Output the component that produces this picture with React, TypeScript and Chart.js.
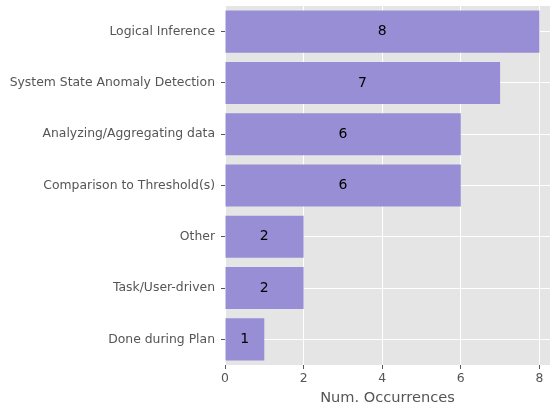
import React, { useEffect, useRef } from "react";
import { Chart, registerables } from "chart.js";

Chart.register(...registerables);

const categories = [
  "Logical Inference",
  "System State Anomaly Detection",
  "Analyzing/Aggregating data",
  "Comparison to Threshold(s)",
  "Other",
  "Task/User-driven",
  "Done during Plan",
];
const occurrences = [8, 7, 6, 6, 2, 2, 1];
const xTicks = [0, 2, 4, 6, 8];
const xTitle = "Num. Occurrences";

const FONT = "'DejaVu Sans', sans-serif";

const bgPlugin = {
  id: "ggbg",
  beforeDraw(chart: any) {
    const { ctx, chartArea } = chart;
    ctx.save();
    ctx.fillStyle = "#E5E5E5";
    ctx.fillRect(chartArea.left, chartArea.top, chartArea.right - chartArea.left, chartArea.bottom - chartArea.top);
    ctx.restore();
  },
};

const labelPlugin = {
  id: "barlabels",
  afterDatasetsDraw(chart: any) {
    const { ctx } = chart;
    const meta = chart.getDatasetMeta(0);
    const xs = chart.scales.x;
    ctx.save();
    ctx.fillStyle = "#000";
    ctx.font = `14px ${FONT}`;
    ctx.textAlign = "center";
    ctx.textBaseline = "middle";
    meta.data.forEach((el: any, i: number) => {
      const v = occurrences[i];
      const cx = xs.getPixelForValue(v / 2);
      ctx.fillText(String(v), cx, el.y);
    });
    ctx.restore();
  },
};

export default function App() {
  const ref = useRef<HTMLCanvasElement>(null);
  useEffect(() => {
    const chart = new Chart(ref.current!, {
      type: "bar",
      data: {
        labels: categories,
        datasets: [
          {
            data: occurrences,
            backgroundColor: "#988ED5",
            borderWidth: 0,
            categoryPercentage: 0.82,
            barPercentage: 1,
          },
        ],
      },
      options: {
        indexAxis: "y",
        animation: false,
        responsive: false,
        layout: { padding: { top: 6, right: 0, bottom: 0, left: 0 } },
        plugins: { legend: { display: false }, tooltip: { enabled: false } },
        scales: {
          x: {
            min: 0,
            max: 8.27,
            afterBuildTicks: (s: any) => {
              s.ticks = xTicks.map((v) => ({ value: v }));
            },
            afterFit: (s: any) => {
              s.height = 47;
              s.paddingLeft = 0;
              s.paddingRight = 0;
            },
            border: { display: false },
            grid: { color: "#FFFFFF", lineWidth: 1, tickColor: "#555555", tickLength: 4, drawTicks: true },
            ticks: { color: "#555555", font: { family: FONT, size: 12.4 }, padding: 2.5, maxRotation: 0 },
            title: {
              display: true,
              text: xTitle,
              color: "#555555",
              font: { family: FONT, size: 14.6 },
              padding: { top: 0, bottom: 5 },
            },
          },
          y: {
            afterFit: (s: any) => {
              s.width = 225;
              s.paddingTop = 0;
              s.paddingBottom = 0;
            },
            border: { display: false },
            grid: { color: "#FFFFFF", lineWidth: 1, offset: false, tickColor: "#555555", tickLength: 4, drawTicks: true },
            ticks: { color: "#555555", font: { family: FONT, size: 12.4 }, padding: 6, autoSkip: false },
          },
        },
      },
      plugins: [bgPlugin, labelPlugin],
    });
    return () => chart.destroy();
  }, []);
  return (
    <div style={{ position: "fixed", left: 0, top: 0, width: 550, height: 412, background: "#fff" }}>
      <canvas ref={ref} width={550} height={412} style={{ width: 550, height: 412 }} />
    </div>
  );
}
